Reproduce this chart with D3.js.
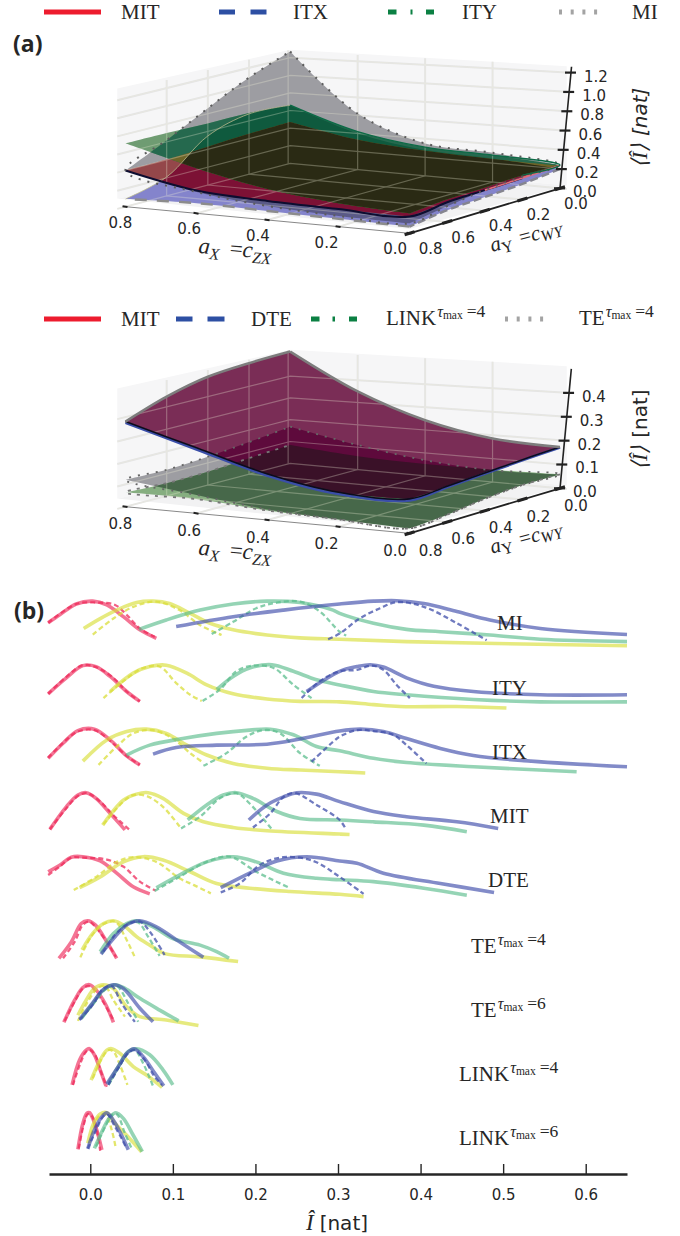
<!DOCTYPE html>
<meta charset="utf-8">
<script src="https://d3js.org/d3.v7.min.js"></script>
<style>
    body { margin: 0; background: #fff; }
    svg { display: block; }
    text { fill: #262626; }
</style>
<div id="my_dataviz"></div>
<script>

// ---- panel (a) and top of (a) legend data ----
// surface values [nat] walked round the edge of the (aX, aY) grid
var gridLoop = [[.8,0],[.6,0],[.4,0],[.2,0],[0,0],[0,.2],[0,.4],[0,.6],[0,.8],[.2,.8],[.4,.8],[.6,.8],[.8,.8],[.8,.6],[.8,.4],[.8,.2]]
var aMI  = [1.27,.62,.35,.31,.24,.235,.21,.16,.10,.11,.147,.23,.40,.62,.86,1.09]
var aITY = [.66,.42,.31,.285,.24,.25,.237,.23,.20,.24,.325,.487,.70,.70,.69,.69]
var aMIT = [.47,.33,.27,.243,.235,.22,.21,.20,.167,.18,.20,.245,.40,.405,.43,.455]
var aITX = [.66,.40,.28,.25,.20,.16,.14,.12,.067,.08,.095,.11,.085,.21,.55,.68]
var bMIT = [.513,.35,.243,.186,.172,.165,.155,.146,.139,.142,.195,.285,.38,.446,.49,.506]
var bDTE = [.513,.35,.243,.186,.170,.162,.152,.142,.133,.135,.188,.278,.375,.445,.49,.506]
var bTE  = [.168,.11,.068,.05,.058,.06,.049,.03,.02,.03,.045,.08,.12,.117,.128,.146]
var bLINK = [.084,.06,.052,.053,.058,.06,.049,.03,.02,.03,.04,.062,.064,.057,.06,.073]
var aZTicks = [0,.2,.4,.6,.8,1,1.2]
var bZTicks = [0,.1,.2,.3,.4]
var floorTicks = [0,.2,.4,.6,.8]

// ---- panel (b) data ----
// every row: [x, density] pairs, solid then dashed, for the four series
var rowMI = [
    [[-.051,-.037,-.017,.003,.02,.04,.06,.08],[.53,.70,.93,.99,.91,.66,.38,.20]],
    [[-.051,-.017,.008,.03,.044,.06,.078],[.53,.93,.96,.91,.70,.41,.23]],
    [[-.008,.012,.032,.056,.076,.096,.121,.145,.173,.214,.254,.302,.383,.492,.65],[.41,.62,.80,.96,.99,.94,.73,.52,.38,.27,.21,.18,.13,.09,.04]],
    [[.003,.028,.052,.08,.108,.133,.159],[.28,.62,.87,.98,.80,.48,.27]],
    [[.059,.092,.133,.173,.214,.254,.294,.302,.343,.383,.424,.484,.545,.65],[.39,.59,.80,.93,.99,.96,.80,.73,.52,.39,.34,.27,.18,.13]],
    [[.147,.173,.201,.226,.254,.278,.302,.31],[.29,.55,.84,.96,.98,.77,.34,.26]],
    [[.104,.173,.234,.302,.343,.371,.404,.444,.484,.545,.65],[.45,.66,.80,.93,.99,1,.94,.77,.59,.41,.28]],
    [[.288,.302,.326,.351,.371,.404,.444,.48],[.18,.30,.62,.84,.97,.87,.52,.16]]
]
var rowITY = [
    [[-.051,-.029,-.009,.007,.024,.044,.06],[.38,.72,.98,.96,.75,.43,.22]],
    [[-.051,-.029,-.009,.007,.028,.044,.06],[.38,.74,.99,.95,.72,.43,.22]],
    [[.024,.052,.072,.092,.117,.141,.173,.214,.254,.302,.343,.375,.444,.504],[.43,.82,.96,.99,.82,.57,.38,.27,.22,.21,.15,.11,.11,.08]],
    [[.016,.04,.064,.084,.104,.121,.135],[.29,.65,.93,.96,.61,.36,.23]],
    [[.153,.173,.193,.22,.246,.274,.302,.343,.383,.464,.545,.65],[.47,.75,.93,1,.86,.68,.57,.43,.36,.26,.21,.21]],
    [[.136,.157,.177,.197,.222,.246,.268],[.23,.47,.86,.98,.93,.57,.29]],
    [[.262,.302,.323,.339,.355,.383,.416,.464,.545,.65],[.43,.86,.96,1,.95,.72,.54,.43,.36,.36]],
    [[.256,.278,.302,.323,.341,.355,.371,.387],[.29,.65,.86,.89,.98,.89,.57,.29]]
]
var rowITX = [
    [[-.051,-.033,-.015,.005,.024,.044,.06],[.37,.69,.96,.99,.76,.42,.23]],
    [[-.051,-.033,-.015,.005,.024,.044,.06],[.38,.70,.94,.97,.74,.42,.23]],
    [[-.009,.02,.044,.068,.092,.117,.141,.173,.214,.254,.302,.333],[.31,.76,.94,.99,.90,.65,.44,.26,.16,.12,.085,.057]],
    [[.01,.032,.052,.076,.1,.121,.135],[.23,.62,.90,.97,.79,.48,.30]],
    [[.044,.072,.112,.153,.193,.218,.246,.274,.302,.343,.383,.464,.589],[.44,.65,.79,.90,.97,.99,.87,.62,.53,.37,.28,.19,.085]],
    [[.137,.165,.189,.21,.23,.254,.278],[.21,.48,.83,.97,.90,.48,.21]],
    [[.076,.104,.153,.214,.254,.302,.327,.355,.383,.424,.464,.525,.65],[.46,.60,.65,.67,.78,.95,.99,.94,.79,.58,.43,.32,.19]],
    [[.268,.294,.302,.323,.343,.367,.383,.407],[.30,.72,.83,.97,.95,.87,.65,.26]]
]
var rowMIT = [
    [[-.049,-.029,-.015,-.005,.007,.024,.042],[.22,.70,.95,1,.88,.56,.21]],
    [[-.049,-.029,-.015,-.004,.012,.028,.047],[.22,.67,.93,.99,.81,.52,.22]],
    [[.015,.04,.056,.07,.088,.113,.137,.173,.214,.302,.314],[.31,.84,.97,1,.88,.56,.38,.26,.19,.12,.11]],
    [[.016,.04,.052,.068,.088,.11],[.33,.81,.95,.93,.70,.24]],
    [[.118,.141,.161,.177,.197,.226,.254,.302,.343,.404,.456],[.42,.74,.95,1,.88,.60,.45,.42,.38,.31,.17]],
    [[.11,.133,.157,.177,.193,.22],[.24,.49,.88,.99,.77,.22]],
    [[.192,.214,.234,.25,.274,.302,.343,.383,.444,.494],[.42,.74,.91,1,.97,.81,.60,.49,.38,.24]],
    [[.197,.218,.234,.248,.274,.302,.309],[.26,.56,.91,.99,.74,.42,.24]]
]
var rowDTE = [
    [[-.051,-.037,-.023,-.009,.012,.032,.052,.072],[.68,.82,.99,1,.91,.65,.36,.21]],
    [[-.051,-.037,-.023,-.009,.02,.04,.06,.079],[.61,.79,.98,.98,.94,.79,.47,.28]],
    [[-.013,.012,.04,.064,.088,.121,.153,.193,.242,.302,.331],[.34,.57,.89,1,.93,.68,.43,.33,.26,.20,.15]],
    [[-.02,.007,.032,.052,.08,.108,.125,.146],[.29,.57,.89,.99,.89,.54,.40,.22]],
    [[.08,.108,.141,.173,.201,.234,.274,.302,.343,.404,.456],[.34,.61,.89,1,.89,.65,.54,.51,.47,.33,.18]],
    [[.078,.108,.141,.169,.201,.242],[.27,.57,.89,1,.68,.33]],
    [[.158,.193,.226,.262,.302,.323,.355,.424,.489],[.34,.65,.91,1,.91,.86,.65,.43,.24]],
    [[.158,.181,.205,.234,.27,.302,.331],[.24,.43,.82,.99,.91,.57,.21]]
]
var rowTE4 = [
    [[-.038,-.023,-.011,-.003,.006,.02,.032],[.20,.55,.94,1,.91,.55,.20]],
    [[-.033,-.019,-.009,-.001,.006,.02,.031],[.20,.55,.91,.98,.87,.55,.23]],
    [[-.01,.003,.016,.028,.04,.056,.072,.09,.133,.179],[.38,.73,.94,1,.91,.66,.48,.30,.23,.13]],
    [[-.012,.001,.016,.03,.042,.054],[.22,.66,.93,.98,.66,.22]],
    [[.012,.028,.044,.056,.076,.1,.133,.153,.168],[.34,.73,.94,1,.87,.62,.48,.34,.20]],
    [[.014,.03,.046,.058,.07,.084],[.30,.70,.94,.96,.66,.25]],
    [[.013,.03,.046,.06,.08,.108,.137],[.29,.66,.93,1,.87,.55,.22]],
    [[.016,.03,.046,.06,.072,.09],[.34,.70,.93,.98,.77,.27]]
]
var rowTE6 = [
    [[-.032,-.019,-.009,-.001,.007,.018,.028],[.20,.67,.94,1,.89,.60,.20]],
    [[-.031,-.018,-.009,-.001,.01,.028],[.23,.67,.92,.97,.78,.25]],
    [[-.015,-.005,.005,.016,.028,.044,.06,.092,.131],[.35,.67,.92,1,.92,.53,.32,.25,.13]],
    [[-.015,-.003,.01,.018,.028,.042],[.23,.64,.94,.97,.67,.32]],
    [[-.011,.003,.016,.03,.042,.06,.084,.107],[.28,.60,.89,1,.92,.71,.46,.23]],
    [[-.009,.006,.02,.032,.046,.058],[.32,.64,.92,.97,.60,.21]],
    [[-.013,.001,.016,.028,.04,.06,.076],[.26,.57,.90,1,.92,.50,.21]],
    [[-.013,.003,.016,.026,.038,.054],[.25,.57,.92,.97,.60,.21]]
]
var rowLINK4 = [
    [[-.022,-.013,-.005,-.001,.005,.012,.019],[.23,.76,.97,1,.87,.55,.21]],
    [[-.021,-.012,-.005,0,.007,.012,.02],[.23,.69,.94,.97,.83,.55,.19]],
    [[.001,.012,.02,.026,.036,.052,.068,.087],[.33,.76,.97,1,.90,.62,.44,.18]],
    [[.003,.014,.022,.028,.036,.045],[.37,.79,.97,.94,.65,.23]],
    [[.022,.034,.046,.056,.072,.088,.1],[.26,.62,.94,1,.87,.55,.23]],
    [[.022,.034,.046,.054,.064,.077],[.23,.58,.91,.97,.69,.16]],
    [[.02,.034,.044,.053,.064,.078,.089],[.25,.62,.90,1,.83,.48,.21]],
    [[.022,.035,.046,.054,.066,.078,.087],[.23,.62,.91,.97,.76,.40,.23]]
]
var rowLINK6 = [
    [[-.015,-.009,-.004,-.001,.003,.009,.014],[.22,.77,.99,1,.88,.56,.21]],
    [[-.014,-.008,-.003,.001,.007,.012],[.24,.74,.97,.95,.70,.19]],
    [[-.003,.004,.012,.02,.03,.044,.062],[.35,.77,.97,1,.77,.52,.17]],
    [[-.001,.005,.012,.019,.026,.031],[.35,.74,.95,.95,.63,.24]],
    [[.005,.016,.024,.031,.04,.052,.063],[.24,.67,.91,1,.88,.52,.17]],
    [[.007,.018,.026,.032,.042,.05],[.28,.70,.95,.97,.56,.24]],
    [[-.003,.005,.014,.02,.028,.038,.046],[.23,.63,.91,1,.84,.52,.21]],
    [[-.003,.007,.015,.02,.03,.038,.044],[.24,.63,.91,.97,.70,.45,.24]]
]
var ridgeRows = [rowMI, rowITY, rowITX, rowMIT, rowDTE, rowTE4, rowTE6, rowLINK4, rowLINK6]
var xTicks = [0,.1,.2,.3,.4,.5,.6]

var serif = "'Liberation Serif', serif"
var sans = "'DejaVu Sans', sans-serif"

var svg = d3.select("#my_dataviz")
    .append("svg")
    .attr("width", 680)
    .attr("height", 1236)
var defs = svg.append("defs")

function label(g, x, y, str, opts) {
    opts = opts || {}
    var t = g.append("text")
        .attr("x", x).attr("y", y)
        .style("font-family", opts.font || serif)
        .style("font-size", (opts.size || 21) + "px")
        .attr("text-anchor", opts.anchor || "start")
        .text(str)
    if (opts.weight) t.style("font-weight", opts.weight)
    return t
}

// TE^{tau_max = n} style label
function tauLabel(g, x, y, name, n) {
    var t = label(g, x, y, name)
    t.append("tspan").attr("dy", -8).attr("dx", 1).style("font-size", "16px").style("font-style", "italic").text("τ")
    t.append("tspan").attr("dy", 2).style("font-size", "11.5px").text("max")
    t.append("tspan").attr("dy", -2).attr("dx", 4).style("font-size", "17.5px").text("=" + n)
    return t
}

// ---- 3d panels ----
var tx = d3.scaleLinear().domain([0, .8]).range([0, 1])

function makeProject(panel) {
    var zf = d3.scaleLinear().domain([0, panel.zTop]).range([0, 1])
    // bilinear map of the floor, C = (0,0) B = (0,.8) A = (.8,.8) D = (.8,0)
    var blend = function (ax, ay, c) {
        var u = tx(ax), v = tx(ay)
        return c.C * (1 - u) * (1 - v) + c.B * (1 - u) * v + c.A * u * v + c.D * u * (1 - v)
    }
    var cx = { A: 125.5, B: 409.6, C: 560, D: 290.2 }
    var cy = { A: 206.7, B: 233.3, C: 188.3, D: 163.3 }
    var ch = { A: 116.7, B: 129, C: 125, D: 113.5 }
    var p = function (ax, ay, I) {
        return [blend(ax, ay, cx), blend(ax, ay, cy) + panel.dy - zf(I) * blend(ax, ay, ch)]
    }
    p.frac = function (ax, ay, f) { return p(ax, ay, f * panel.zTop) }
    return p
}

function surfacePath(project, values) {
    var pts = gridLoop.map(function (g, i) { return project(g[0], g[1], values[i]) })
    pts.push(pts[0])
    var line = d3.line().curve(d3.curveCatmullRom)
    var d = ""
    for (var i = 0; i < 16; i += 4) {
        var seg = line(pts.slice(i, i + 5))
        d += i == 0 ? seg : "L" + seg.slice(1)
    }
    return d + "Z"
}

function edgePath(project, values, from, to) {
    var pts = gridLoop.map(function (g, i) { return project(g[0], g[1], values[i]) })
    pts.push(pts[0])
    return d3.line().curve(d3.curveCatmullRom)(pts.slice(from, to + 1))
}

function drawPanel(panel) {
    var g = svg.append("g")
    var project = makeProject(panel)
    var f = project.frac
    var poly = d3.line()

    // panes
    g.append("path").attr("d", poly([f(.8,.84,.089), f(.8,0,0), f(.8,0,1), f(.8,.84,1.03)]) + "Z").attr("fill", "#f6f6f7")
    g.append("path").attr("d", poly([f(.8,0,0), f(-.02,0,.03), f(-.02,0,.98), f(.8,0,1)]) + "Z").attr("fill", "#f6f6f7")
    g.append("path").attr("d", poly([f(.8,.84,.089), f(.8,0,0), f(-.02,0,.03), f(0,.8,.033)]) + "Z").attr("fill", "#f2f2f3")

    // grid, drawn below and again faintly above the surfaces
    function grid(parent, color, width, opacity) {
        var gg = parent.append("g").attr("stroke", color).attr("stroke-width", width)
            .attr("fill", "none").attr("opacity", opacity)
        panel.zTicks.forEach(function (t) {
            gg.append("path").attr("d", poly([project(.8,.84,t), project(.8,0,t), project(-.02,0,t)]))
        })
        floorTicks.forEach(function (t) {
            if (t > 0 && t < .8) {
                gg.append("path").attr("d", poly([project(t,.8,0), project(t,0,0), f(t,0,.985)]))
                gg.append("path").attr("d", poly([project(0,t,0), project(.8,t,0), f(.8,t,1)]))
            }
        })
        gg.append("path").attr("d", poly([project(.8,.01,0), f(.8,.01,1)]))
    }
    grid(g, "#e4e4e6", 2, 1)

    // surfaces, one clip per surface so every overlap gets its own colour
    var paths = {}
    panel.surfaces.forEach(function (s) {
        paths[s.name] = surfacePath(project, s.values)
        defs.append("clipPath").attr("id", panel.id + s.name)
            .append("path").attr("d", paths[s.name])
    })
    panel.paints.forEach(function (pt) {
        var parent = g
        pt.names.slice(1).forEach(function (n) {
            parent = parent.append("g").attr("clip-path", "url(#" + panel.id + n + ")")
        })
        parent.append("path").attr("d", paths[pt.names[0]]).attr("fill", pt.fill)
    })
    grid(g, "#f0f0d8", 1.2, .3)

    // surface edges
    panel.edges.forEach(function (e) {
        var s = panel.surfaces.filter(function (d) { return d.name == e.name })[0]
        g.append("path").attr("d", edgePath(project, s.values, e.from, e.to))
            .attr("fill", "none").attr("stroke", e.color).attr("stroke-width", e.width)
            .attr("stroke-dasharray", e.dash || null)
    })

    // floor axes
    var ls = panel.labelDy - panel.dy
    g.append("path").attr("d", poly([project(.8,.8,0), project(0,.8,0)]))
        .attr("stroke", "#888").attr("stroke-width", 1).attr("fill", "none")
    g.append("path").attr("d", poly([project(0,.8,0), project(0,0,0)]))
        .attr("stroke", "#222").attr("stroke-width", 1.8).attr("fill", "none")
    floorTicks.forEach(function (t) {
        var a = project(t, .8, 0), b = project(0, t, 0)
        g.append("path").attr("d", poly([[a[0] + 2, a[1] + .3], [a[0] - 3, a[1] - .5]])).attr("stroke", "#222").attr("stroke-width", 2)
        g.append("path").attr("d", poly([[b[0] + 5, b[1] - 1.5], [b[0] - 5, b[1] + 1.5]])).attr("stroke", "#222").attr("stroke-width", 3)
        label(g, a[0] - 5 - 9.4 * (1 - t / .8), a[1] + 21 + ls, t.toFixed(1), { font: sans, size: 15, anchor: "middle" })
        label(g, b[0] + 16 + (t > .6 ? 5 : 0), b[1] + 20.5 + ls, t.toFixed(1), { font: sans, size: 15, anchor: "middle" })
    })

    // z axis
    var zpos = function (t) { return project(-.035 * t / panel.zTop, 0, t) }
    g.append("path").attr("d", poly([zpos(panel.axisLow), zpos(panel.axisTop)]))
        .attr("stroke", "#222").attr("stroke-width", 1.6).attr("fill", "none")
    panel.zTicks.forEach(function (t) {
        var p = zpos(t)
        g.append("path").attr("d", poly([[p[0] - 6, p[1]], [p[0] + 5, p[1]]])).attr("stroke", "#222").attr("stroke-width", 2.2)
        label(g, p[0] + 13, p[1] + 9, t.toFixed(1), { font: sans, size: 15 })
    })

    // axis labels
    var xy = 253 + panel.labelDy
    var xl = label(g, 198, xy, "", { size: 23 }).attr("transform", "rotate(5 198 " + xy + ")")
    xl.append("tspan").style("font-style", "italic").text("a")
    xl.append("tspan").style("font-style", "italic").style("font-size", "16px").attr("dy", 5).text("X")
    xl.append("tspan").attr("dy", -5).attr("dx", 10).text("=")
    xl.append("tspan").style("font-style", "italic").text("c")
    xl.append("tspan").style("font-style", "italic").style("font-size", "16px").attr("dy", 5).text("ZX")
    var yy = 252 + panel.labelDy
    var yl = label(g, 492, yy, "", { size: 21 }).attr("transform", "rotate(-15 492 " + yy + ")")
    yl.append("tspan").style("font-style", "italic").text("a")
    yl.append("tspan").style("font-size", "16px").attr("dy", 4).text("Y")
    yl.append("tspan").attr("dy", -4).attr("dx", 8).text("=")
    yl.append("tspan").style("font-style", "italic").text("c")
    yl.append("tspan").style("font-style", "italic").style("font-size", "16px").attr("dy", 3).text("WY")
    var zl = label(g, 0, 0, "", { font: sans, size: 20, anchor: "middle" })
        .attr("transform", "translate(647," + (128 + panel.labelDy) + ") rotate(-90)")
    zl.append("tspan").style("font-family", serif).style("font-style", "italic").style("font-size", "22px").text("⟨Î⟩")
    zl.append("tspan").attr("dx", 7).style("font-style", panel.id == "a" ? "italic" : "normal").text("[nat]")
}

drawPanel({
    id: "a", dy: 0, labelDy: 0, zTop: 1.29, zTicks: aZTicks, axisLow: 0, axisTop: 1.26,
    surfaces: [
        { name: "MI", values: aMI },
        { name: "ITY", values: aITY },
        { name: "MIT", values: aMIT },
        { name: "ITX", values: aITX }
    ],
    paints: [
        { names: ["MI"], fill: "#9d9da2" },
        { names: ["ITY"], fill: "#6f9c72" },
        { names: ["ITX"], fill: "#8484cc" },
        { names: ["MIT"], fill: "#c2655c" },
        { names: ["ITX", "MI"], fill: "#5a5a88" },
        { names: ["ITY", "MIT"], fill: "#bf6a58" },
        { names: ["MIT", "MI"], fill: "#94474a" },
        { names: ["MIT", "MI", "ITX"], fill: "#7c1135" },
        { names: ["ITY", "MI"], fill: "#25694e" },
        { names: ["ITY", "MI", "ITX"], fill: "#0f5a3e" },
        { names: ["ITY", "MI", "MIT"], fill: "#6e6428" },
        { names: ["ITY", "MI", "MIT", "ITX"], fill: "#2a2a14" }
    ],
    edges: [
        { name: "ITX", from: 8, to: 12, color: "#8c8c8c", width: 2.4, dash: "12,10" },
        { name: "ITX", from: 4, to: 8, color: "#85858f", width: 2.4, dash: "8,4" },
        { name: "ITX", from: 12, to: 16, color: "#b8b88c", width: .8 },
        { name: "MIT", from: 5, to: 12, color: "#0d0d30", width: 2 },
        { name: "MIT", from: 4, to: 6, color: "#e06a78", width: 1.6 },
        { name: "MI", from: 0, to: 16, color: "#5c5c5c", width: 2, dash: "2,7" },
        { name: "ITY", from: 0, to: 5, color: "#0c6a46", width: 1.4 }
    ]
})

drawPanel({
    id: "b", dy: 300, labelDy: 301.7, zTop: .521, zTicks: bZTicks, axisLow: 0, axisTop: .5,
    surfaces: [
        { name: "MIT", values: bMIT },
        { name: "DTE", values: bDTE },
        { name: "TE", values: bTE },
        { name: "LINK", values: bLINK }
    ],
    paints: [
        { names: ["TE"], fill: "#9d9da2" },
        { names: ["LINK"], fill: "#86ae80" },
        { names: ["LINK", "TE"], fill: "#47684a" },
        { names: ["MIT"], fill: "#7a2d56" },
        { names: ["MIT", "TE"], fill: "#5e0a3c" },
        { names: ["MIT", "LINK"], fill: "#3a1128" }
    ],
    edges: [
        { name: "TE", from: 0, to: 16, color: "#666", width: 1.8, dash: "2,7" },
        { name: "LINK", from: 4, to: 16, color: "#777", width: 1.8, dash: "3,6" },
        { name: "DTE", from: 4, to: 12, color: "#3a4ea8", width: 2.6 },
        { name: "MIT", from: 4, to: 12, color: "#0c0c1c", width: 1.6 },
        { name: "MIT", from: 12, to: 16, color: "#7d7d7d", width: 2.6 },
        { name: "MIT", from: 0, to: 4, color: "#7d7d7d", width: 2.6 }
    ]
})

// ---- legends ----
function legendLine(y, x0, x1, color, dash) {
    svg.append("line").attr("x1", x0).attr("x2", x1).attr("y1", y).attr("y2", y)
        .attr("stroke", color).attr("stroke-width", 5).attr("stroke-dasharray", dash || null)
}
var legRed = "#ed1c2e", legBlue = "#2d4fa3", legGreen = "#0b8043", legGrey = "#a3a3a3"
legendLine(12, 44, 101, legRed)
legendLine(12, 219, 267, legBlue, "16,15.5")
legendLine(12, 388, 434, legGreen, "8.5,14,2,13.5,8")
legendLine(12, 559, 605, legGrey, "3,8.7")
label(svg, 121, 19, "MIT")
label(svg, 293, 19, "ITX")
label(svg, 462, 19, "ITY")
label(svg, 632, 19, "MI")

legendLine(319, 44, 101, legRed)
legendLine(319, 176, 225, legBlue, "16.5,15,17")
legendLine(319, 311, 357, legGreen, "8.5,13,2.5,14,8")
legendLine(319, 505, 551, legGrey, "3,8.7")
label(svg, 121, 326, "MIT")
label(svg, 251, 326, "DTE")
tauLabel(svg, 386, 325, "LINK", 4)
tauLabel(svg, 579, 325, "TE", 4)

label(svg, 13, 52, "(a)", { font: "'Open Sans', sans-serif", size: 23, weight: 700 })
label(svg, 14, 619, "(b)", { font: "'Open Sans', sans-serif", size: 23, weight: 700 })

// ---- ridge rows ----
var x = d3.scaleLinear().domain([-.05, .65]).range([49, 627])
var seriesColor = ["#ee2a5a", "#d9de3a", "#5cbd8d", "#3f4daa"]
var rowBase = d3.scaleLinear().domain([0, 1]).range([647.7, 711.7])
var density = d3.scaleLinear().domain([0, 1]).range([0, 47])

var ridges = svg.append("g").attr("fill", "none")
ridgeRows.forEach(function (row, r) {
    row.forEach(function (c, i) {
        var solid = i % 2 == 0
        var line = d3.line()
            .curve(d3.curveCatmullRom)
            .x(function (d) { return x(c[0][d]) })
            .y(function (d) { return rowBase(r) - density(c[1][d]) })
        ridges.append("path")
            .attr("d", line(d3.range(c[0].length)))
            .attr("stroke", seriesColor[Math.floor(i / 2)])
            .attr("stroke-width", solid ? 3.6 : 2.3)
            .attr("stroke-dasharray", solid ? null : "5,3")
            .attr("opacity", solid ? .65 : .75)
    })
})

label(svg, 497, 630, "MI")
label(svg, 492, 695, "ITY")
label(svg, 492, 759, "ITX")
label(svg, 490, 823, "MIT")
label(svg, 488, 887, "DTE")
tauLabel(svg, 471, 953, "TE", 4)
tauLabel(svg, 471, 1017, "TE", 6)
tauLabel(svg, 459, 1081, "LINK", 4)
tauLabel(svg, 459, 1145, "LINK", 6)

// bottom axis
var axis = svg.append("g")
    .attr("transform", "translate(0,1174)")
    .call(d3.axisBottom(x).tickValues(xTicks).tickFormat(d3.format(".1f")).tickSizeInner(-10).tickSizeOuter(0).tickPadding(15))
axis.select(".domain").attr("stroke", "#262626").attr("stroke-width", 2.4)
axis.selectAll(".tick line").attr("stroke", "#262626").attr("stroke-width", 1.4)
axis.selectAll(".tick text").style("font-family", sans).style("font-size", "15px").attr("fill", "#262626")

var xl = label(svg, 337, 1230, "", { font: sans, size: 20, anchor: "middle" })
xl.append("tspan").style("font-family", serif).style("font-style", "italic").style("font-size", "23px").text("Î")
xl.append("tspan").attr("dx", 6).text("[nat]")

</script>
